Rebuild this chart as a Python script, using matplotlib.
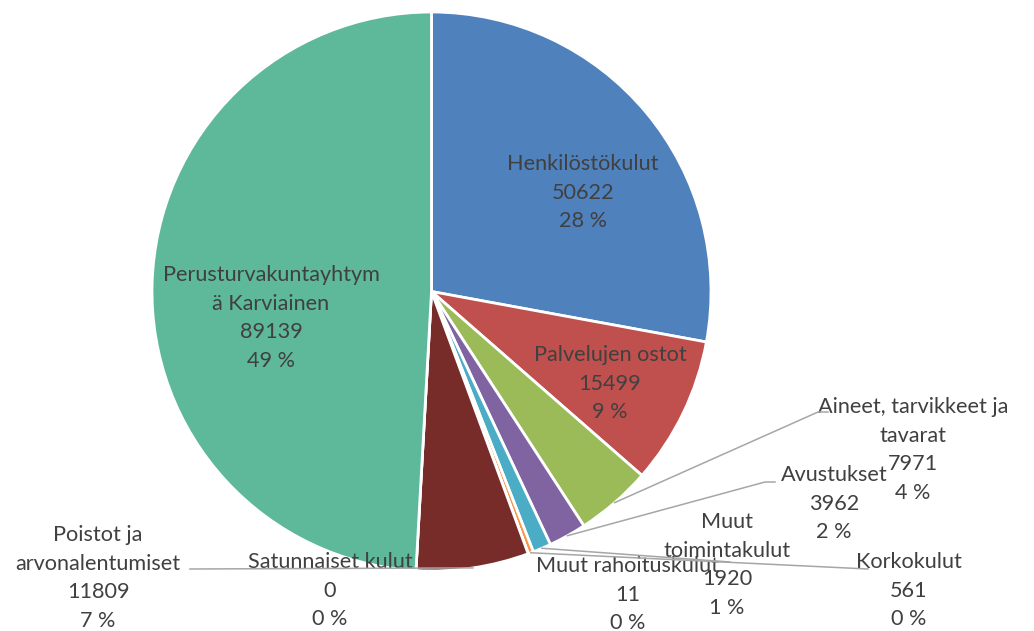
import matplotlib
matplotlib.use("Agg")
import matplotlib.pyplot as plt
import numpy as np

# ---- data ----
categories = ["Henkilöstökulut", "Palvelujen ostot", "Aineet, tarvikkeet ja tavarat",
              "Avustukset", "Muut toimintakulut", "Korkokulut", "Muut rahoituskulut",
              "Poistot ja arvonalentumiset", "Satunnaiset kulut",
              "Perusturvakuntayhtymä Karviainen"]
values = [50622, 15499, 7971, 3962, 1920, 561, 11, 11809, 0, 89139]
label_names = [["Henkilöstökulut"], ["Palvelujen ostot"], ["Aineet, tarvikkeet ja", "tavarat"],
               ["Avustukset"], ["Muut", "toimintakulut"], ["Korkokulut"], ["Muut rahoituskulut"],
               ["Poistot ja", "arvonalentumiset"], ["Satunnaiset kulut"],
               ["Perusturvakuntayhtym", "ä Karviainen"]]

# ---- style / layout ----
colors = ["#4F81BD", "#C0504D", "#9BBB59", "#8064A2", "#4BACC6", "#F79646",
          "#2C4D75", "#772C2A", "#5F7530", "#5DB99A"]
W, H = 1034, 631
cx, cy, R = 431.5, 291.5, 279.5
# label anchor (center x, first-line center y) in pixel coords from top
label_pos = [(583, 164), (610, 355), (913, 407), (834, 475), (727, 522),
             (909, 562), (628, 566), (98, 535), (330, 562), (271, 275)]
# leader line path points after the wedge anchor (None = no leader)
leaders = [None, None, [(818, 412), (828, 412)], [(765, 482), (775, 482)],
           [(730, 562)], [(868, 569)], None, [(190, 569)], None, None]
line_step = 28.7
text_color = "#404040"
lead_color = "#A6A6A6"
font = "Lato"

fig = plt.figure(figsize=(W / 100, H / 100), dpi=100)
ax = fig.add_axes([0, 0, 1, 1])
wedges, _ = ax.pie(values, colors=colors, startangle=90, counterclock=False,
                   center=(cx, H - cy), radius=R,
                   wedgeprops=dict(edgecolor="white", linewidth=2.0))
ax.set_xlim(0, W)
ax.set_ylim(0, H)
ax.set_aspect("equal")
ax.axis("off")

total = sum(values)
for i, w in enumerate(wedges):
    pct = round(values[i] / total * 100)
    lines = label_names[i] + [str(values[i]), f"{pct} %"]
    lx, ly = label_pos[i]
    for k, t in enumerate(lines):
        ax.text(lx, H - (ly + k * line_step), t, ha="center", va="center",
                fontsize=15.6, color=text_color, family=font)
    if leaders[i] is not None:
        mid = np.deg2rad((w.theta1 + w.theta2) / 2)
        sx = cx + R * np.cos(mid)
        sy = (H - cy) + R * np.sin(mid)
        xs = [sx] + [p[0] for p in leaders[i]]
        ys = [sy] + [H - p[1] for p in leaders[i]]
        ax.plot(xs, ys, color=lead_color, lw=1.1, zorder=5)

fig.savefig("out.png", dpi=100)
